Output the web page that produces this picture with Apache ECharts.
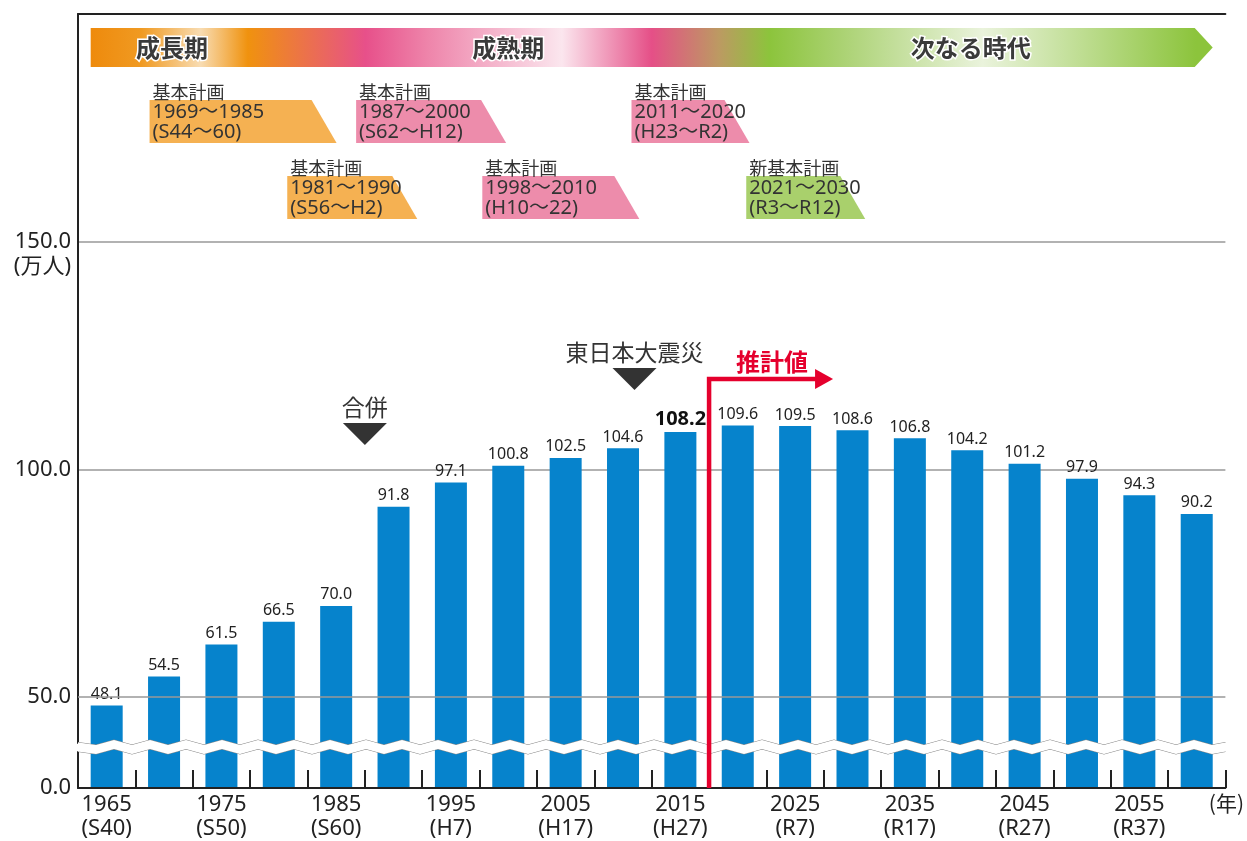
<!DOCTYPE html>
<html>
<head>
<meta charset="utf-8">
<title>人口の推移</title>
<script src="https://cdn.jsdelivr.net/npm/echarts@6.0.0/dist/echarts.min.js"></script>
<style>
html, body { margin: 0; padding: 0; background: #fff; }
#main { width: 1247px; height: 841px; }
</style>
</head>
<body>
<div id="main"></div>
<script>
// 年（5年ごと）と和暦
var years = ['1965', '1970', '1975', '1980', '1985', '1990', '1995', '2000', '2005', '2010',
             '2015', '2020', '2025', '2030', '2035', '2040', '2045', '2050', '2055', '2060'];
var eras = ['S40', 'S45', 'S50', 'S55', 'S60', 'H2', 'H7', 'H12', 'H17', 'H22',
            'H27', 'R2', 'R7', 'R12', 'R17', 'R22', 'R27', 'R32', 'R37', 'R42'];
// 人口（万人）
var population = [48.1, 54.5, 61.5, 66.5, 70.0, 91.8, 97.1, 100.8, 102.5, 104.6,
                  108.2, 109.6, 109.5, 108.6, 106.8, 104.2, 101.2, 97.9, 94.3, 90.2];
var lastActualYear = '2015';   // ここまで実績、以降は推計値
var yTicks = [0, 50, 100, 150];
var lowTicks = [0, 50];        // 省略線の近くの目盛（markLineで描く）

// 時代区分
var stages = ['成長期', '成熟期', '次なる時代'];
var stageYears = [1970.7, 2000, 2040.3];

// 基本計画
var plans = [
    ['基本計画', '1969～1985', '(S44～60)'],
    ['基本計画', '1981～1990', '(S56～H2)'],
    ['基本計画', '1987～2000', '(S62～H12)'],
    ['基本計画', '1998～2010', '(H10～22)'],
    ['基本計画', '2011～2020', '(H23～R2)'],
    ['新基本計画', '2021～2030', '(R3～R12)']
];
var planStart = [1969, 1981, 1987, 1998, 2011, 2021];
var planKind = ['growth', 'growth', 'mature', 'mature', 'mature', 'next'];

// 出来事
var events = ['合併', '東日本大震災'];
var eventYears = [1987.5, 2011];

// ---- 見た目 ----
var barColor = '#0683cc';
var planColors = { growth: '#f5b152', mature: '#ed8cab', next: '#a9d06c' };
var planRow = [0, 1, 0, 1, 0, 1];
var planWidth = [187, 130, 150, 157, 118, 119];
var redColor = '#e5002d';
var numFont = '"Noto Sans", "Noto Sans CJK JP", sans-serif';
var jpFont = '"Noto Sans CJK JP", sans-serif';

var chart = echarts.init(document.getElementById('main'));

var barData = population.map(function (v, i) {
    if (years[i] === lastActualYear) {
        return { value: v, label: { fontWeight: 'bold', fontSize: 20, color: '#111' } };
    }
    return v;
});

// 0 と 50 の目盛ラベル・補助線（breaks を使うと軸側では消えるため）
var lowLines = lowTicks.map(function (v) {
    return {
        yAxis: v,
        lineStyle: v === 0 ? { color: '#222', width: 2, type: 'solid' } : { color: '#999', width: 1.5, type: 'solid' },
        label: { formatter: v.toFixed(1) }
    };
});

var option = {
    animation: false,
    backgroundColor: '#fff',
    textStyle: { fontFamily: numFont },
    grid: { left: 78, right: 19, top: 14, bottom: 51 },
    xAxis: [
        {
            type: 'category',
            data: years,
            name: '(年)',
            nameLocation: 'end',
            nameGap: 1,
            nameTextStyle: {
                fontFamily: jpFont, fontSize: 21, color: '#222',
                align: 'center', verticalAlign: 'top', padding: [5, 0, 0, 0]
            },
            axisLine: { show: true, lineStyle: { color: '#222', width: 2 } },
            axisTick: {
                show: true, inside: true, length: 18, interval: 0,
                lineStyle: { color: '#222', width: 2 }
            },
            axisLabel: {
                interval: 1,
                margin: 5,
                fontSize: 22,
                lineHeight: 24,
                color: '#222',
                formatter: function (v, i) { return v + '\n(' + eras[i] + ')'; }
            },
            splitLine: { show: false }
        },
        {
            type: 'category',
            data: years,
            position: 'top',
            axisLine: { show: true, lineStyle: { color: '#222', width: 2 } },
            axisTick: { show: false },
            axisLabel: { show: false }
        }
    ],
    yAxis: {
        type: 'value',
        min: 0,
        max: 200,
        interval: 50,
        breaks: [{ start: 8, end: 40, gap: 2 }],
        breakArea: {
            show: true,
            expandOnClick: false,
            zigzagAmplitude: 2.5,
            zigzagMinSpan: 18,
            zigzagMaxSpan: 18,
            zigzagZ: 100,
            itemStyle: { color: '#fff', borderColor: '#888', borderWidth: 1.2, borderType: 'solid', opacity: 1 }
        },
        axisLine: { show: true, lineStyle: { color: '#222', width: 2 } },
        axisTick: { show: false },
        axisLabel: {
            margin: 7,
            fontSize: 22,
            lineHeight: 25,
            color: '#222',
            formatter: function (v) {
                if (yTicks.indexOf(v) < 0 || lowTicks.indexOf(v) >= 0) return '';
                if (v === 150) return '\n' + v.toFixed(1) + '\n(万人)';
                return v.toFixed(1);
            }
        },
        splitLine: { show: true, lineStyle: { color: '#999', width: 1.5 } }
    },
    series: [
        {
            // 補助線だけを持つ系列（棒の下に描く）
            type: 'line',
            data: [],
            z: 1,
            silent: true,
            markLine: {
                silent: true,
                symbol: 'none',
                animation: false,
                label: {
                    show: true,
                    position: 'start',
                    distance: 7,
                    fontFamily: numFont,
                    fontSize: 22,
                    color: '#222'
                },
                data: lowLines
            }
        },
        {
            type: 'bar',
            data: barData,
            barWidth: 32,
            itemStyle: { color: barColor },
            label: {
                show: true,
                position: 'top',
                distance: 3,
                fontSize: 16,
                color: '#222',
                formatter: function (p) { return p.value.toFixed(1); }
            },
            z: 2
        }
    ]
};
chart.setOption(option);

// ---- 注記（軸の座標から位置を求める）----
var x0 = chart.convertToPixel({ xAxisIndex: 0 }, years[0]);
var x1 = chart.convertToPixel({ xAxisIndex: 0 }, years[1]);
var step = x1 - x0;
function xOf(year) { return x0 + (year - 1965) / 5 * step; }
var yBase = chart.convertToPixel({ yAxisIndex: 0 }, 0);

var g = [];

// 時代区分の矢印帯
var bandL = x0 - 16, bandR = xOf(2060) + 16, bandT = 28, bandB = 67;
g.push({
    type: 'polygon',
    z: 50,
    shape: { points: [[bandL, bandT], [bandR - 18, bandT], [bandR, (bandT + bandB) / 2], [bandR - 18, bandB], [bandL, bandB]] },
    style: {
        fill: new echarts.graphic.LinearGradient(0, 0, 1, 0, [
            { offset: 0, color: '#ee8a0c' },
            { offset: 0.045, color: '#f09a22' },
            { offset: 0.098, color: '#f8dcb2' },
            { offset: 0.14, color: '#f0920e' },
            { offset: 0.245, color: '#e7508a' },
            { offset: 0.3, color: '#ee84aa' },
            { offset: 0.42, color: '#fbe6ee' },
            { offset: 0.5, color: '#e54f87' },
            { offset: 0.56, color: '#bc9a62' },
            { offset: 0.605, color: '#8cc43c' },
            { offset: 0.67, color: '#abd273' },
            { offset: 0.795, color: '#eaf3dc' },
            { offset: 0.985, color: '#8cc43c' },
            { offset: 1, color: '#8cc43c' }
        ])
    }
});
stages.forEach(function (s, i) {
    g.push({
        type: 'text',
        z: 51,
        style: {
            text: s, x: xOf(stageYears[i]), y: (bandT + bandB) / 2,
            textAlign: 'center', textVerticalAlign: 'middle',
            font: 'bold 24px ' + jpFont,
            fill: '#3a3a3a', stroke: '#fff', lineWidth: 3
        }
    });
});

// 基本計画のボックス
plans.forEach(function (p, i) {
    var left = xOf(planStart[i]) - 3;
    var top = planRow[i] === 0 ? 100 : 176;
    var h = 43;
    var wb = planWidth[i];
    g.push({
        type: 'polygon',
        z: 50,
        shape: { points: [[left, top], [left + wb - 25, top], [left + wb, top + h], [left, top + h]] },
        style: { fill: planColors[planKind[i]] }
    });
    p.forEach(function (line, k) {
        g.push({
            type: 'text',
            z: 51,
            style: {
                text: line, x: left + 3, y: top - 8 + k * 20,
                textAlign: 'left', textVerticalAlign: 'middle',
                font: (k === 0 ? '18px ' + jpFont : '20px ' + numFont),
                fill: '#333'
            }
        });
    });
});

// 出来事のマーカー
var evTextY = [407, 352];
events.forEach(function (e, i) {
    var cx = xOf(eventYears[i]);
    var ty = evTextY[i];
    g.push({
        type: 'text',
        z: 51,
        style: {
            text: e, x: cx, y: ty,
            textAlign: 'center', textVerticalAlign: 'middle',
            font: '23px ' + jpFont, fill: '#333'
        }
    });
    g.push({
        type: 'polygon',
        z: 51,
        shape: { points: [[cx - 22, ty + 16], [cx + 22, ty + 16], [cx, ty + 38]] },
        style: { fill: '#333' }
    });
});

// 推計値の区切り線
var idx = years.indexOf(lastActualYear);
var rx = (chart.convertToPixel({ xAxisIndex: 0 }, years[idx]) + chart.convertToPixel({ xAxisIndex: 0 }, years[idx + 1])) / 2;
var ry = 379;
g.push({
    type: 'polyline',
    z: 150,
    shape: { points: [[rx, yBase], [rx, ry], [rx + 110, ry]] },
    style: { stroke: redColor, lineWidth: 4.5, fill: null }
});
g.push({
    type: 'polygon',
    z: 150,
    shape: { points: [[rx + 106, ry - 10], [rx + 124, ry], [rx + 106, ry + 10]] },
    style: { fill: redColor }
});
g.push({
    type: 'text',
    z: 150,
    style: {
        text: '推計値', x: rx + 63, y: ry - 17,
        textAlign: 'center', textVerticalAlign: 'middle',
        font: 'bold 24px ' + jpFont, fill: redColor
    }
});

chart.setOption({ graphic: g });
</script>
</body>
</html>
